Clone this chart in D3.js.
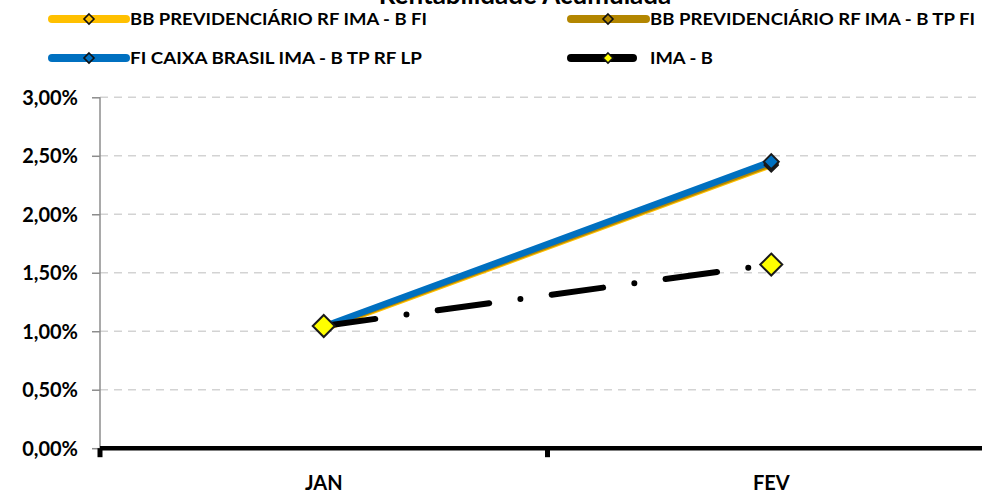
<!DOCTYPE html>
<html><head><meta charset="utf-8">
<script src="https://cdn.jsdelivr.net/npm/d3@7"></script>
<style>body{margin:0;background:#fff;}svg{display:block;}text{font-family:Lato,"Open Sans",sans-serif;font-weight:bold;fill:#000;}</style>
</head><body><svg id="c" width="982" height="493"></svg>
<script>
const categories = ["JAN", "FEV"];
const seriesNames = ["BB PREVIDENCIÁRIO RF IMA - B FI", "BB PREVIDENCIÁRIO RF IMA - B TP FI", "FI CAIXA BRASIL IMA - B TP RF LP", "IMA - B"];
const bbFI = [1.02, 2.42];
const bbTPFI = [1.03, 2.43];
const caixa = [1.04, 2.45];
const imaB = [1.045, 1.57];
const yTicks = [0, 0.5, 1, 1.5, 2, 2.5, 3];
const yTickLabels = ["0,00%", "0,50%", "1,00%", "1,50%", "2,00%", "2,50%", "3,00%"];
const title = "Rentabilidade Acumulada";

const svg = d3.select("#c");
const x = d3.scaleBand().domain(categories).range([100, 995]);
const y = d3.scaleLinear().domain([0, 3]).range([448.2, 97.3]);

// title (mostly clipped at the top, as in the reference)
svg.append("text").attr("x", 525).attr("y", 3.5).attr("text-anchor", "middle").style("font-size", "26px").text(title);

// gridlines
svg.append("g").selectAll("line").data(yTicks.filter(d => d > 0)).join("line")
  .attr("x1", 100).attr("x2", 982).attr("y1", d => y(d)).attr("y2", d => y(d))
  .attr("stroke", "#d3d3d3").attr("stroke-width", 1.5).attr("stroke-dasharray", "8,6");

// y axis
const yAxis = svg.append("g").attr("transform", "translate(100,0)")
  .call(d3.axisLeft(y).tickValues(yTicks).tickSize(8).tickPadding(14).tickFormat((d, i) => yTickLabels[i]));
yAxis.select(".domain").attr("stroke", "#8c8c8c").attr("stroke-width", 1.5).attr("d", `M0,${y(3)}V${y(0)}`);
yAxis.selectAll(".tick line").attr("stroke", "#8c8c8c").attr("stroke-width", 1.5);
yAxis.selectAll(".tick text").style("font-size", "20px").style("font-family", "Lato, sans-serif").style("font-weight", "bold").attr("dy", "0.35em");

// x axis
const xAxis = svg.append("g").attr("transform", `translate(0,${y(0)})`)
  .call(d3.axisBottom(x).tickSize(0).tickPadding(28));
xAxis.select(".domain").attr("stroke", "#000").attr("stroke-width", 4.5).attr("d", `M100,0H995`);
xAxis.selectAll(".tick text").style("font-size", "20px").style("font-family", "Lato, sans-serif").style("font-weight", "bold");
const bounds = [x.range()[0], x(categories[1])];
svg.append("g").selectAll("line").data(bounds).join("line")
  .attr("x1", d => d).attr("x2", d => d).attr("y1", y(0)).attr("y2", y(0) + 9)
  .attr("stroke", "#000").attr("stroke-width", 5);

const cx = c => x(c) + x.bandwidth() / 2;
const line = d3.line().x((d, i) => cx(categories[i])).y(d => y(d));

const series = [
  {name: seriesNames[0], vals: bbFI, color: "#FFC000", w: 6, dash: null, mfill: "#FFC000", ms: 13},
  {name: seriesNames[1], vals: bbTPFI, color: "#B38600", w: 6, dash: null, mfill: "#B38600", ms: 13},
  {name: seriesNames[2], vals: caixa, color: "#0070C0", w: 6.5, dash: null, mfill: "#0070C0", ms: 15},
  {name: seriesNames[3], vals: imaB, color: "#000000", w: 6, dash: "52,31.5,0,31.5", mfill: "#FFFF00", ms: 22}
];

const diamond = (px, py, s) => { const h = s / 2; return `M${px},${py - h}L${px + h},${py}L${px},${py + h}L${px - h},${py}Z`; };

series.forEach(s => {
  svg.append("path").attr("d", line(s.vals)).attr("fill", "none").attr("stroke", s.color)
    .attr("stroke-width", s.w).attr("stroke-linecap", "round").attr("stroke-dasharray", s.dash);
});
series.forEach(s => {
  svg.append("g").selectAll("path").data(s.vals).join("path")
    .attr("d", (d, i) => diamond(cx(categories[i]), y(d), s.ms))
    .attr("fill", s.mfill).attr("stroke", "#1a1a1a").attr("stroke-width", 2);
});

// legend
const legend = [
  {s: series[0], x0: 52, x1: 126, mx: 89, ly: 19, tx: 130, tw: 297},
  {s: series[1], x0: 571, x1: 646, mx: 608, ly: 19, tx: 650, tw: 325},
  {s: series[2], x0: 52, x1: 126, mx: 89, ly: 58, tx: 130, tw: 292},
  {s: series[3], x0: 571, x1: 633, mx: 608, ly: 58, tx: 650, tw: 63}
];
legend.forEach(l => {
  svg.append("line").attr("x1", l.x0).attr("x2", l.x1).attr("y1", l.ly).attr("y2", l.ly)
    .attr("stroke", l.s.color).attr("stroke-width", 8).attr("stroke-linecap", "round");
  svg.append("path").attr("d", diamond(l.mx, l.ly, 10))
    .attr("fill", l.s.mfill).attr("stroke", "#111").attr("stroke-width", 1.6);
  svg.append("text").attr("x", l.tx).attr("y", l.ly + 6).style("font-size", "17px")
    .attr("textLength", l.tw).attr("lengthAdjust", "spacingAndGlyphs").text(l.s.name);
});
</script></body></html>
